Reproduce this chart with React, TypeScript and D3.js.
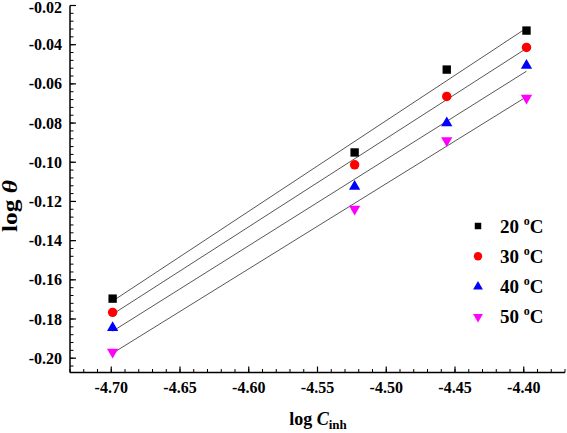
import React from "react";
import * as d3 from "d3";

const xValues = [-4.699, -4.523, -4.456, -4.398];
const s20 = [-0.1696, -0.095, -0.0527, -0.0328];
const s30 = [-0.1766, -0.1013, -0.0664, -0.0414];
const s40 = [-0.1845, -0.1124, -0.08, -0.0506];
const s50 = [-0.1968, -0.1238, -0.0889, -0.0672];
const seriesLabels = ["20", "30", "40", "50"];
const seriesColors = ["#000000", "#ff0000", "#0000ff", "#ff00ff"];
const xTicks = [-4.7, -4.65, -4.6, -4.55, -4.5, -4.45, -4.4];
const yTicks = [-0.2, -0.18, -0.16, -0.14, -0.12, -0.1, -0.08, -0.06, -0.04, -0.02];

const W = 567;
const H = 433;
const left = 70;
const right = 565;
const top = 5.5;
const bottom = 372.5;

const FONT = "'Liberation Serif', 'Times New Roman', serif";

function fit(xs: number[], ys: number[]) {
  const n = xs.length;
  const mx = d3.mean(xs)!;
  const my = d3.mean(ys)!;
  let num = 0;
  let den = 0;
  for (let i = 0; i < n; i++) {
    num += (xs[i] - mx) * (ys[i] - my);
    den += (xs[i] - mx) ** 2;
  }
  const b = num / den;
  const a = my - b * mx;
  return (x: number) => a + b * x;
}

export default function App() {
  const x = d3.scaleLinear().domain([-4.73, -4.37]).range([left, right]);
  const y = d3.scaleLinear().domain([-0.2073, -0.02]).range([bottom, top]);
  const series = [s20, s30, s40, s50];
  const symbols = [
    { type: d3.symbolSquare, size: 70, rot: 0 },
    { type: d3.symbolCircle, size: 70, rot: 0 },
    { type: d3.symbolTriangle, size: 55, rot: 0 },
    { type: d3.symbolTriangle, size: 55, rot: 180 },
  ];
  const legSymbols = [
    { type: d3.symbolSquare, size: 42, rot: 0 },
    { type: d3.symbolCircle, size: 55, rot: 0 },
    { type: d3.symbolTriangle, size: 42, rot: 0 },
    { type: d3.symbolTriangle, size: 42, rot: 180 },
  ];

  const xMinor = d3.range(-4.73, -4.369, 0.01).map((v) => +v.toFixed(3));
  const yMinor = d3.range(-0.204, -0.0199, 0.004).map((v) => +v.toFixed(4));
  const x0 = d3.min(xValues)!;
  const x1 = d3.max(xValues)!;

  return (
    <svg
      width={W}
      height={H}
      style={{ position: "absolute", left: 0, top: 0, background: "#fff" }}
      fontFamily={FONT}
    >
      {/* fit lines */}
      {series.map((s, i) => {
        const f = fit(xValues, s);
        return (
          <line
            key={"l" + i}
            x1={x(x0)}
            y1={y(f(x0))}
            x2={x(x1)}
            y2={y(f(x1))}
            stroke="#444"
            strokeWidth={0.9}
          />
        );
      })}
      {/* points */}
      {series.map((s, i) =>
        s.map((v, j) => (
          <path
            key={"p" + i + "-" + j}
            d={d3.symbol().type(symbols[i].type).size(symbols[i].size)()!}
            transform={`translate(${x(xValues[j])},${y(v)}) rotate(${symbols[i].rot})`}
            fill={seriesColors[i]}
          />
        ))
      )}
      {/* axes */}
      <line x1={left} y1={bottom} x2={right} y2={bottom} stroke="#000" strokeWidth={1.5} />
      <line x1={left} y1={bottom} x2={left} y2={top} stroke="#000" strokeWidth={1.5} />
      {xMinor.map((v, i) => (
        <line key={"xm" + i} x1={x(v)} x2={x(v)} y1={bottom} y2={bottom - 3.5} stroke="#000" strokeWidth={1} />
      ))}
      {xTicks.map((v, i) => (
        <g key={"xt" + i}>
          <line x1={x(v)} x2={x(v)} y1={bottom} y2={bottom - 6} stroke="#000" strokeWidth={1.2} />
          <text x={x(v)} y={393} textAnchor="middle" fontSize={16} fontWeight="bold">
            {v.toFixed(2)}
          </text>
        </g>
      ))}
      {yMinor.map((v, i) => (
        <line key={"ym" + i} x1={left} x2={left + 3.5} y1={y(v)} y2={y(v)} stroke="#000" strokeWidth={1} />
      ))}
      {yTicks.map((v, i) => (
        <g key={"yt" + i}>
          <line x1={left} x2={left + 6} y1={y(v)} y2={y(v)} stroke="#000" strokeWidth={1.2} />
          <text x={62} y={Math.max(y(v) + 5.5, 12.5)} textAnchor="end" fontSize={16} fontWeight="bold">
            {v.toFixed(2)}
          </text>
        </g>
      ))}
      {/* axis titles */}
      <text
        transform={`translate(17,206) rotate(-90)`}
        textAnchor="middle"
        fontSize={20}
        fontWeight="bold"
        textLength={52}
        lengthAdjust="spacingAndGlyphs"
      >
        log <tspan fontStyle="italic">θ</tspan>
      </text>
      <text x={318} y={425} textAnchor="middle" fontSize={18} fontWeight="bold">
        log <tspan fontStyle="italic">C</tspan>
        <tspan fontSize={13} dy={4}>inh</tspan>
      </text>
      {/* legend */}
      {seriesLabels.map((lab, i) => (
        <g key={"lg" + i} transform={`translate(0,${226 + i * 30.3})`}>
          <path
            d={d3.symbol().type(legSymbols[i].type).size(legSymbols[i].size)()!}
            transform={`translate(478,0) rotate(${legSymbols[i].rot})`}
            fill={seriesColors[i]}
          />
          <text x={500} y={6.5} fontSize={19} fontWeight="bold">
            {lab} <tspan fontSize={12} dy={-8}>o</tspan>
            <tspan dy={8}>C</tspan>
          </text>
        </g>
      ))}
    </svg>
  );
}
